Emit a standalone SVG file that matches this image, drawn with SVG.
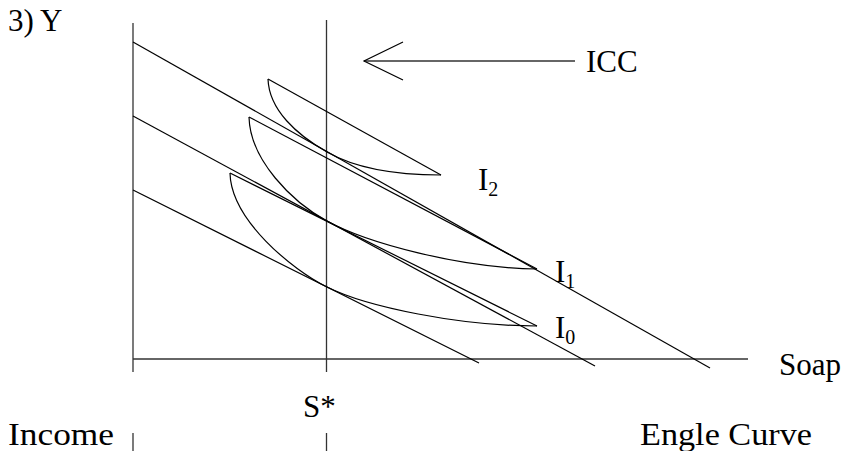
<svg xmlns="http://www.w3.org/2000/svg" width="843" height="451" viewBox="0 0 843 451">
<style>
.ln{stroke:#000;stroke-width:1.2;fill:none}
.ax{stroke:#333;stroke-width:1.3;fill:none}
.t{font-family:"Liberation Serif","Times New Roman",serif;font-size:31px;fill:#000}
.s{font-size:20px}
</style>
<rect width="843" height="451" fill="#fff"/>
<g id="axes">
<line class="ax" x1="133" y1="23" x2="133" y2="372"/>
<line class="ax" x1="133" y1="359" x2="748" y2="359"/>
<line class="ax" x1="326.5" y1="20" x2="326.5" y2="372"/>
<line class="ax" x1="133" y1="433" x2="133" y2="451"/>
<line class="ax" x1="326.5" y1="433" x2="326.5" y2="451"/>
</g>
<g id="budget-lines">
<line class="ln" x1="133" y1="42" x2="710" y2="368"/>
<line class="ln" x1="133" y1="116" x2="595" y2="366"/>
<line class="ln" x1="133" y1="190" x2="479" y2="363"/>
</g>
<g id="I2">
<line class="ln" x1="268" y1="79" x2="441" y2="175"/>
<path class="ln" d="M268,79 C269,110 297,135 327,152 C362,172 410,175 441,175"/>
</g>
<g id="I1">
<line class="ln" x1="249" y1="117" x2="537" y2="269"/>
<path class="ln" d="M249,117 C250,160 292,202 327,221 C367,243 460,268 537,269"/>
</g>
<g id="I0">
<line class="ln" x1="230" y1="173" x2="537" y2="326"/>
<path class="ln" d="M230,173 C231,220 292,269.5 327,287 C367,307 460,326 537,326"/>
</g>
<g id="connectors">
<line class="ax" x1="364" y1="61" x2="575" y2="61"/>
<polyline class="ln" points="403,42 364,61 403,80"/>
</g>
<g id="labels">
<text class="t" x="8" y="31">3)</text>
<text class="t" x="40" y="31">Y</text>
<text class="t" x="586" y="72">ICC</text>
<text class="t" x="478" y="190">I<tspan class="s" dy="6">2</tspan></text>
<text class="t" x="555" y="282">I<tspan class="s" dy="6">1</tspan></text>
<text class="t" x="555" y="338">I<tspan class="s" dy="6">0</tspan></text>
<text class="t" x="779" y="375">Soap</text>
<text class="t" x="303" y="417">S*</text>
<text class="t" x="8" y="445" textLength="106" lengthAdjust="spacingAndGlyphs">Income</text>
<text class="t" x="640" y="445" textLength="172" lengthAdjust="spacingAndGlyphs">Engle Curve</text>
</g>
</svg>
